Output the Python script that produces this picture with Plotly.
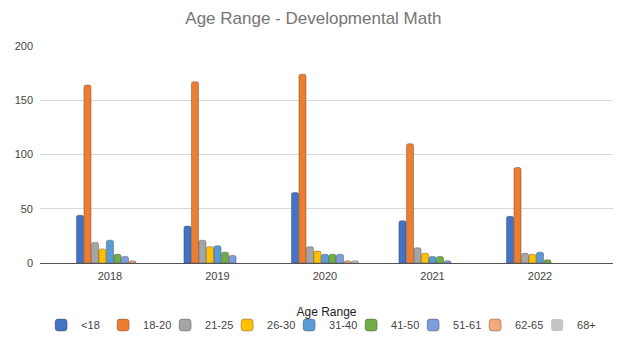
import plotly.graph_objects as go

years = ["2018", "2019", "2020", "2021", "2022"]
age_groups = ["<18", "18-20", "21-25", "26-30", "31-40", "41-50", "51-61", "62-65", "68+"]
counts = {
    "<18":   [44, 34, 65, 39, 43],
    "18-20": [164, 167, 174, 110, 88],
    "21-25": [19, 21, 15, 14, 9],
    "26-30": [13, 15, 11, 9, 8],
    "31-40": [21, 16, 8, 6, 10],
    "41-50": [8, 10, 8, 6, 3],
    "51-61": [6, 7, 8, 2, 0],
    "62-65": [2, 0, 2, 0, 0],
    "68+":   [0, 0, 2, 0, 0],
}
colors = ["#4472C4", "#ED7D31", "#A5A5A5", "#FFC000", "#5B9BD5",
          "#70AD47", "#7F9CDD", "#F4A97A", "#C4C4C4"]

FONT = "Liberation Sans, Arial, sans-serif"

fig = go.Figure()
for name, col in zip(age_groups, colors):
    vals = counts[name]
    fig.add_trace(go.Bar(
        name=name,
        x=list(range(len(years))),
        y=vals,
        marker=dict(color=col, cornerradius=2,
                    line=dict(color="rgba(40,40,40,0.55)",
                              width=[0.6 if v > 0 else 0 for v in vals])),
    ))

fig.update_layout(
    width=623, height=343,
    margin=dict(l=40, r=10, t=46, b=80, autoexpand=False),
    paper_bgcolor="white", plot_bgcolor="white",
    barmode="group", bargap=0.372, bargroupgap=0.05,
    title=dict(text="Age Range - Developmental Math", x=0.503, xanchor="center",
               y=0.948, yanchor="middle",
               font=dict(family=FONT, size=17, color="#757575")),
    font=dict(family=FONT, size=11, color="#444444"),
    showlegend=True,
    legend=dict(orientation="h", xref="container", x=0.066, xanchor="left",
                y=-0.286, yanchor="middle",
                font=dict(family=FONT, size=11, color="#444444"),
                itemwidth=30, entrywidth=17, traceorder="normal"),
    xaxis=dict(
        tickmode="array", tickvals=list(range(len(years))), ticktext=years,
        range=[-0.651, 4.679], showgrid=False, showline=False, ticks="",
        automargin=False, ticklabelstandoff=5,
        tickfont=dict(size=11, color="#444444"),
        title=dict(text="Age Range", standoff=26,
                   font=dict(family=FONT, size=12, color="#222222")),
    ),
    yaxis=dict(
        range=[0, 200], tickvals=[0, 50, 100, 150, 200],
        showgrid=True, gridcolor="#D9D9D9", gridwidth=1,
        zeroline=True, zerolinecolor="#555555", zerolinewidth=1.2,
        ticks="", ticklabelstandoff=6, automargin=False,
        tickfont=dict(size=11, color="#444444"),
    ),
)

fig.write_html("out.html")
